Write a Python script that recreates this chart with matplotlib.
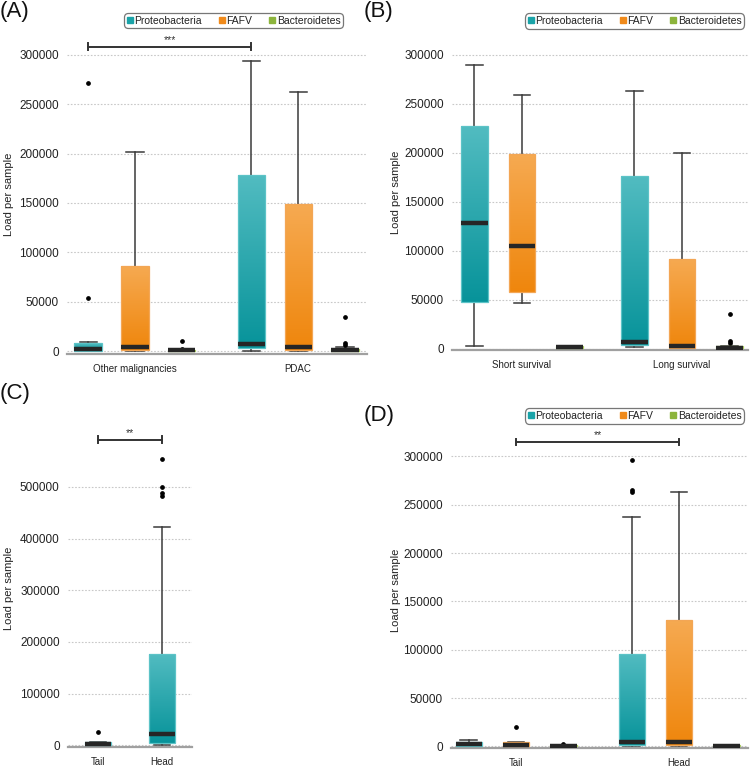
import matplotlib
matplotlib.use('Agg')
import matplotlib.pyplot as plt
import numpy as np
from matplotlib.lines import Line2D
from matplotlib.colors import to_rgb
from matplotlib import font_manager

_names = {f.name for f in font_manager.fontManager.ttflist}
if 'Liberation Sans Narrow' in _names:
    FAM = ['Liberation Sans Narrow', 'Liberation Sans', 'DejaVu Sans']
    FS_TICK, FS_X, FS_LEG, FS_YLAB = 10, 7.5, 9, 9.5
elif 'DejaVu Sans Condensed' in _names:
    FAM = ['DejaVu Sans Condensed', 'DejaVu Sans']
    FS_TICK, FS_X, FS_LEG, FS_YLAB = 9, 7, 8, 8.5
else:
    FAM = ['Liberation Sans', 'DejaVu Sans']
    FS_TICK, FS_X, FS_LEG, FS_YLAB = 8.5, 7, 7.5, 8
plt.rcParams['font.family'] = FAM

# ---------------- data (whislo, q1, median, q3, whishi) ----------------
series = ['Proteobacteria', 'FAFV', 'Bacteroidetes']

a_groups = ['Other malignancies', 'PDAC']
a_proteo = [(0, 500, 2200, 7800, 9400), (500, 2700, 6800, 178000, 294000)]
a_proteo_out = [[54000, 271000], []]
a_fafv = [(0, 600, 4400, 86000, 202000), (0, 600, 4400, 149000, 262000)]
a_fafv_out = [[], []]
a_bact = [(0, 300, 800, 1500, 1800), (0, 300, 1000, 1800, 3700)]
a_bact_out = [[2200, 10000], [6000, 7800, 34400]]

b_groups = ['Short survival', 'Long survival']
b_proteo = [(2500, 47000, 128000, 226700, 289700), (1200, 3200, 6300, 176000, 263000)]
b_proteo_out = [[], []]
b_fafv = [(46000, 57700, 104700, 199000, 259000), (0, 300, 2800, 91800, 199500)]
b_fafv_out = [[], []]
b_bact = [(0, 300, 1300, 2500, 2700), (0, 300, 1000, 2200, 3000)]
b_bact_out = [[], [6000, 7700, 35000]]

c_groups = ['Tail', 'Head']
c_proteo = [(0, 300, 2500, 6000, 6500), (0, 4000, 21000, 177000, 423000)]
c_proteo_out = [[26000], [483000, 488000, 500000, 553000]]

d_groups = ['Tail', 'Head']
d_proteo = [(0, 500, 2400, 4800, 7000), (0, 1700, 5000, 96000, 237700)]
d_proteo_out = [[], [263000, 265000, 296000]]
d_fafv = [(0, 300, 1500, 4500, 4500), (0, 1400, 5000, 131000, 263000)]
d_fafv_out = [[19700], []]
d_bact = [(0, 200, 600, 1200, 1200), (0, 200, 600, 1200, 1500)]
d_bact_out = [[2500], []]

# ---------------- style ----------------
grad = {
    'Proteobacteria': ('#52bcc1', '#07939a', '#5cc3c7'),
    'FAFV': ('#f6aa52', '#ef860c', '#f3a655'),
    'Bacteroidetes': ('#a6c95a', '#7ea62e', '#a6c95a'),
}
legend_col = {'Proteobacteria': '#1aa3a8', 'FAFV': '#f08a1a', 'Bacteroidetes': '#8cb43c'}

W, H = 750, 769
fig = plt.figure(figsize=(W / 100, H / 100), dpi=100)


def ax_at(x0, x1, ytop, ybot):
    return fig.add_axes([x0 / W, 1 - ybot / H, (x1 - x0) / W, (ybot - ytop) / H])


def gradient_fill(ax, patch, top, bottom):
    verts = patch.get_path().vertices
    x0, x1 = verts[:, 0].min(), verts[:, 0].max()
    y0, y1 = verts[:, 1].min(), verts[:, 1].max()
    t = np.linspace(0, 1, 256)[:, None]
    ct, cb = np.array(to_rgb(top)), np.array(to_rgb(bottom))
    img = (cb[None, :] * (1 - t) + ct[None, :] * t)[:, None, :]
    im = ax.imshow(img, extent=[x0, x1, y0, y1], origin='lower', aspect='auto',
                   zorder=2, interpolation='bilinear')
    im.set_clip_path(patch)


def draw(ax, names, stats_list, outs_list, offsets, width, ylim, xlim, yticks, groups, ylab_x):
    for name, stats, outs, off in zip(names, stats_list, outs_list, offsets):
        top, bottom, edge = grad[name]
        bs = []
        for s, o in zip(stats, outs):
            bs.append(dict(whislo=s[0], q1=s[1], med=s[2], q3=s[3], whishi=s[4], fliers=o))
        pos = [g + off for g in range(len(stats))]
        res = ax.bxp(bs, positions=pos, widths=width, capwidths=width * 0.63,
                     patch_artist=True, showfliers=True, manage_ticks=False,
                     boxprops=dict(facecolor='none', edgecolor=edge, linewidth=0.9, zorder=3),
                     medianprops=dict(color='#262626', linewidth=3.2, solid_capstyle='butt', zorder=4),
                     whiskerprops=dict(color='#3a3a3a', linewidth=1.1),
                     capprops=dict(color='#3a3a3a', linewidth=1.1),
                     flierprops=dict(marker='o', markersize=2.4, markerfacecolor='black',
                                     markeredgecolor='black', linestyle='none'))
        for p in res['boxes']:
            gradient_fill(ax, p, top, bottom)
    ax.set_xlim(*xlim)
    ax.set_ylim(*ylim)
    ax.set_yticks(yticks)
    ax.set_yticklabels([str(v) for v in yticks], fontsize=FS_TICK, color='#222222')
    ax.set_xticks(range(len(groups)))
    ax.set_xticklabels(groups, fontsize=FS_X, color='#222222')
    ax.tick_params(axis='both', length=0)
    ax.tick_params(axis='y', pad=6)
    ax.tick_params(axis='x', pad=7)
    for s in ['top', 'right', 'left']:
        ax.spines[s].set_visible(False)
    ax.spines['bottom'].set_color('#a0a0a0')
    ax.spines['bottom'].set_linewidth(1.6)
    ax.yaxis.grid(True, linestyle=(0, (1.5, 1.5)), color='#c8c8c8', linewidth=0.8)
    ax.set_axisbelow(True)
    ax.set_ylabel('Load per sample', fontsize=FS_YLAB, color='#222222')
    ax.yaxis.label.set_va('center')
    ax.yaxis.set_label_coords(ylab_x, 0.5)


def sig(ax, x1, x2, y, text, capdy):
    ax.plot([x1, x2], [y, y], color='#333333', lw=1.4, zorder=5, clip_on=False)
    for x in (x1, x2):
        ax.plot([x, x], [y - capdy, y + capdy], color='#333333', lw=1.4, zorder=5, clip_on=False)
    ax.text((x1 + x2) / 2, y + capdy * 0.6, text, ha='center', va='bottom', fontsize=7.5,
            color='#333333')


def legend(cx, cy):
    handles = [Line2D([], [], marker='s', ls='', color=legend_col[n], markersize=4) for n in series]
    leg = fig.legend(handles, series, loc='center', bbox_to_anchor=(cx / W, 1 - cy / H),
                     ncol=3, fontsize=FS_LEG, frameon=True, fancybox=True, handlelength=0.6,
                     handletextpad=0.15, columnspacing=1.6, borderpad=0.25, borderaxespad=0)
    fr = leg.get_frame()
    fr.set_edgecolor('#555555')
    fr.set_linewidth(0.9)
    fr.set_boxstyle('round', pad=0.0, rounding_size=0.4)
    for t in leg.get_texts():
        t.set_color('#222222')


ticks3 = [0, 50000, 100000, 150000, 200000, 250000, 300000]

# Panel A
axA = ax_at(67, 367, 35, 354)
draw(axA, series, [a_proteo, a_fafv, a_bact], [a_proteo_out, a_fafv_out, a_bact_out],
     [-0.288, 0, 0.288], 0.166, (-3000, 320000), (-0.417, 1.423), ticks3, a_groups,
     (9 - 67) / 300)
sig(axA, -0.288, 1 - 0.288, 308000, '***', 3500)

# Panel B
axB = ax_at(452, 748, 35, 350)
draw(axB, series, [b_proteo, b_fafv, b_bact], [b_proteo_out, b_fafv_out, b_bact_out],
     [-0.297, 0, 0.297], 0.166, (-1500, 320000), (-0.4375, 1.4125), ticks3, b_groups,
     (396 - 452) / 296)

# Panel C
axC = ax_at(68, 192, 430, 747.4)
draw(axC, ['Proteobacteria'], [c_proteo], [c_proteo_out], [0], 0.406,
     (-4000, 610000), (-0.469, 1.469), [0, 100000, 200000, 300000, 400000, 500000], c_groups,
     (9 - 68) / 124)
sig(axC, 0, 1, 591000, '**', 7000)

# Panel D
axD = ax_at(451, 748, 432.3, 748.4)
draw(axD, series, [d_proteo, d_fafv, d_bact], [d_proteo_out, d_fafv_out, d_bact_out],
     [-0.291, 0, 0.291], 0.16, (-2000, 325000), (-0.399, 1.423), ticks3, d_groups,
     (396 - 451) / 297)
sig(axD, 0, 1, 315000, '**', 3500)

legend(233.5, 20.5)
legend(634.5, 21)
legend(634.5, 416)

for lab, x, y in [('(A)', 0, 12), ('(B)', 364, 12), ('(C)', 0, 393), ('(D)', 364, 415)]:
    fig.text(x / W, 1 - y / H, lab, fontsize=16, ha='left', va='center', color='#111111')

fig.savefig('out.png', dpi=100)
